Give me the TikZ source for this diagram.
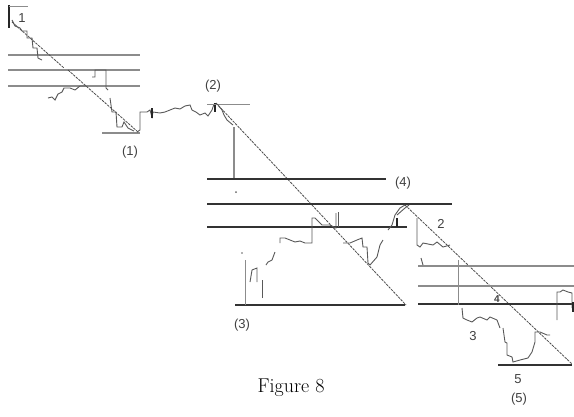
\documentclass[tikz,border=0pt]{standalone}
\usepackage{fontspec}
\newfontfamily\labfont{Liberation Sans}
\tikzset{
  lvl/.style={draw=black!45, line width=1.2pt},
  lvlthick/.style={draw=black!80, line width=2pt},
  trend/.style={draw=black!70, line width=0.8pt, dash pattern=on 2.5pt off 1pt},
  price/.style={draw=black!65, line width=0.9pt},
  bar/.style={draw=black!85, line width=2pt},
  tag/.style={font=\labfont\fontsize{13}{13}\selectfont, text=black!75, inner sep=0pt}
}
\begin{document}
\begin{tikzpicture}[x=1pt,y=-1pt]
\useasboundingbox (0,0) rectangle (574,416);
% panel 1
\draw[bar] (9,5) -- (9,28);
\draw[lvl, line width=0.8pt] (9,6) -- (28,6);
\node[tag] (t1) at (22,18) {1};
\draw[lvl] (8,55) -- (140,55);
\draw[lvl] (8,70) -- (140,70);
\draw[lvl] (8,86) -- (140,86);
\draw[lvl] (102,133) -- (140,133);
\draw[trend] (12,22) -- (64,68);
\draw[trend] (68,70) -- (138,132);
\draw[price] (12,20) -- (15,26) -- (20,28) -- (22,31) -- (27,31) -- (27,38) -- (32,38) -- (33,48) -- (37,48) -- (38,58) -- (42,60);
\draw[price] (48,98) -- (52,97) -- (55,100) -- (58,94) -- (62,92) -- (64,88) -- (70,88) -- (75,90) -- (80,86) -- (86,86);
\draw[price] (92,77) -- (95,77) -- (95,70) -- (106,70) -- (106,88) -- (108,90);
\draw[price] (110,98) -- (112,112) -- (116,112) -- (117,127) -- (122,127) -- (124,122) -- (128,128) -- (134,131);
\draw[price] (137,132) -- (140,130) -- (140,112) -- (147,112) -- (150,110) -- (152,117) -- (153,112)
  -- (160,113) -- (165,112) -- (170,110) -- (175,108) -- (180,109) -- (185,106) -- (190,105)
  -- (192,110) -- (196,112) -- (200,115) -- (205,113) -- (208,116) -- (212,110) -- (214,104);
\draw[bar] (152,108) -- (152,118);
\draw[bar] (215,103) -- (215,112);
\node[tag] (p1) at (130,152) {(1)};
% panel 2
\node[tag] (p2) at (213,86) {(2)};
\draw[lvl, line width=1pt] (207,104) -- (250,104);
\draw[trend] (216,103) -- (406,305);
\draw[price] (218,105) -- (222,110) -- (224,115) -- (227,120) -- (233,125);
\draw[lvl] (234,127) -- (234,180);
\fill[black!60] (236,192) circle (1pt);
\draw[lvlthick] (207,179) -- (386,179);
\draw[lvlthick] (207,204) -- (452,204);
\draw[lvlthick, line width=2.4pt] (207,227) -- (407,227);
\draw[lvlthick] (235,305) -- (405,305);
\node[tag] (p4) at (403,183) {(4)};
\draw[lvl, line width=1pt] (245,260) -- (245,305);
\fill[black!60] (242,253) circle (0.8pt);
\draw[price] (250,282) -- (252,270) -- (257,268) -- (257,282);
\draw[price] (262,298) -- (262,280);
\draw[price] (266,265) -- (268,262) -- (272,260) -- (275,252);
\draw[price] (280,243) -- (280,238) -- (285,238) -- (290,240) -- (295,242) -- (300,241) -- (305,243) -- (312,243) -- (312,218)
  -- (315,218) -- (322,225) -- (330,225) -- (336,228) -- (336,213);
\draw[price] (338,212) -- (338,227);
\draw[price] (343,243) -- (350,243) -- (357,240) -- (362,238) -- (363,247) -- (367,247) -- (368,263)
  -- (370,265) -- (377,257) -- (380,245) -- (383,240);
\draw[price] (388,230) -- (392,225) -- (395,215) -- (400,208) -- (405,205);
\node[tag] (p3) at (242,325) {(3)};
% panel 3
\draw[trend] (405,205) -- (572,364);
\draw[lvl] (418,266) -- (574,266);
\draw[lvl] (418,286) -- (574,286);
\draw[lvlthick] (418,304) -- (574,304);
\draw[lvlthick] (498,365) -- (572,365);
\draw[bar] (397,218) -- (397,227);
\draw[price] (397,215) -- (405,208) -- (409,205);
\draw[price] (417,218) -- (417,245) -- (420,247) -- (423,243) -- (433,245) -- (437,242) -- (443,247) -- (450,245);
\draw[price] (421,258) -- (423,265);
\draw[lvl, line width=1pt] (458,260) -- (458,305);
\draw[price] (462,308) -- (463,318) -- (467,320) -- (472,322) -- (477,318) -- (480,317) -- (487,320) -- (490,317)
  -- (497,320) -- (500,328);
\draw[price] (503,328) -- (505,342) -- (507,343) -- (507,355) -- (512,357) -- (513,362) -- (520,360)
  -- (528,358) -- (532,352) -- (535,342) -- (535,332) -- (540,332) -- (547,335) -- (550,335);
\draw[price] (557,320) -- (557,292) -- (560,292) -- (563,290) -- (568,292) -- (572,293) -- (572,308);
\draw[bar] (573,302) -- (573,312);
\node[tag, font=\labfont\bfseries\fontsize{10}{10}\selectfont] (m4) at (497,299) {4};
\node[tag] (w2) at (441,224) {2};
\node[tag] (w3) at (473,336) {3};
\node[tag] (w5) at (518,379) {5};
\node[tag] (p5) at (519,399) {(5)};
% caption
\node[font=\fontsize{20}{24}\selectfont, inner sep=0pt] (cap) at (291,388) {Figure 8};
\end{tikzpicture}
\end{document}
